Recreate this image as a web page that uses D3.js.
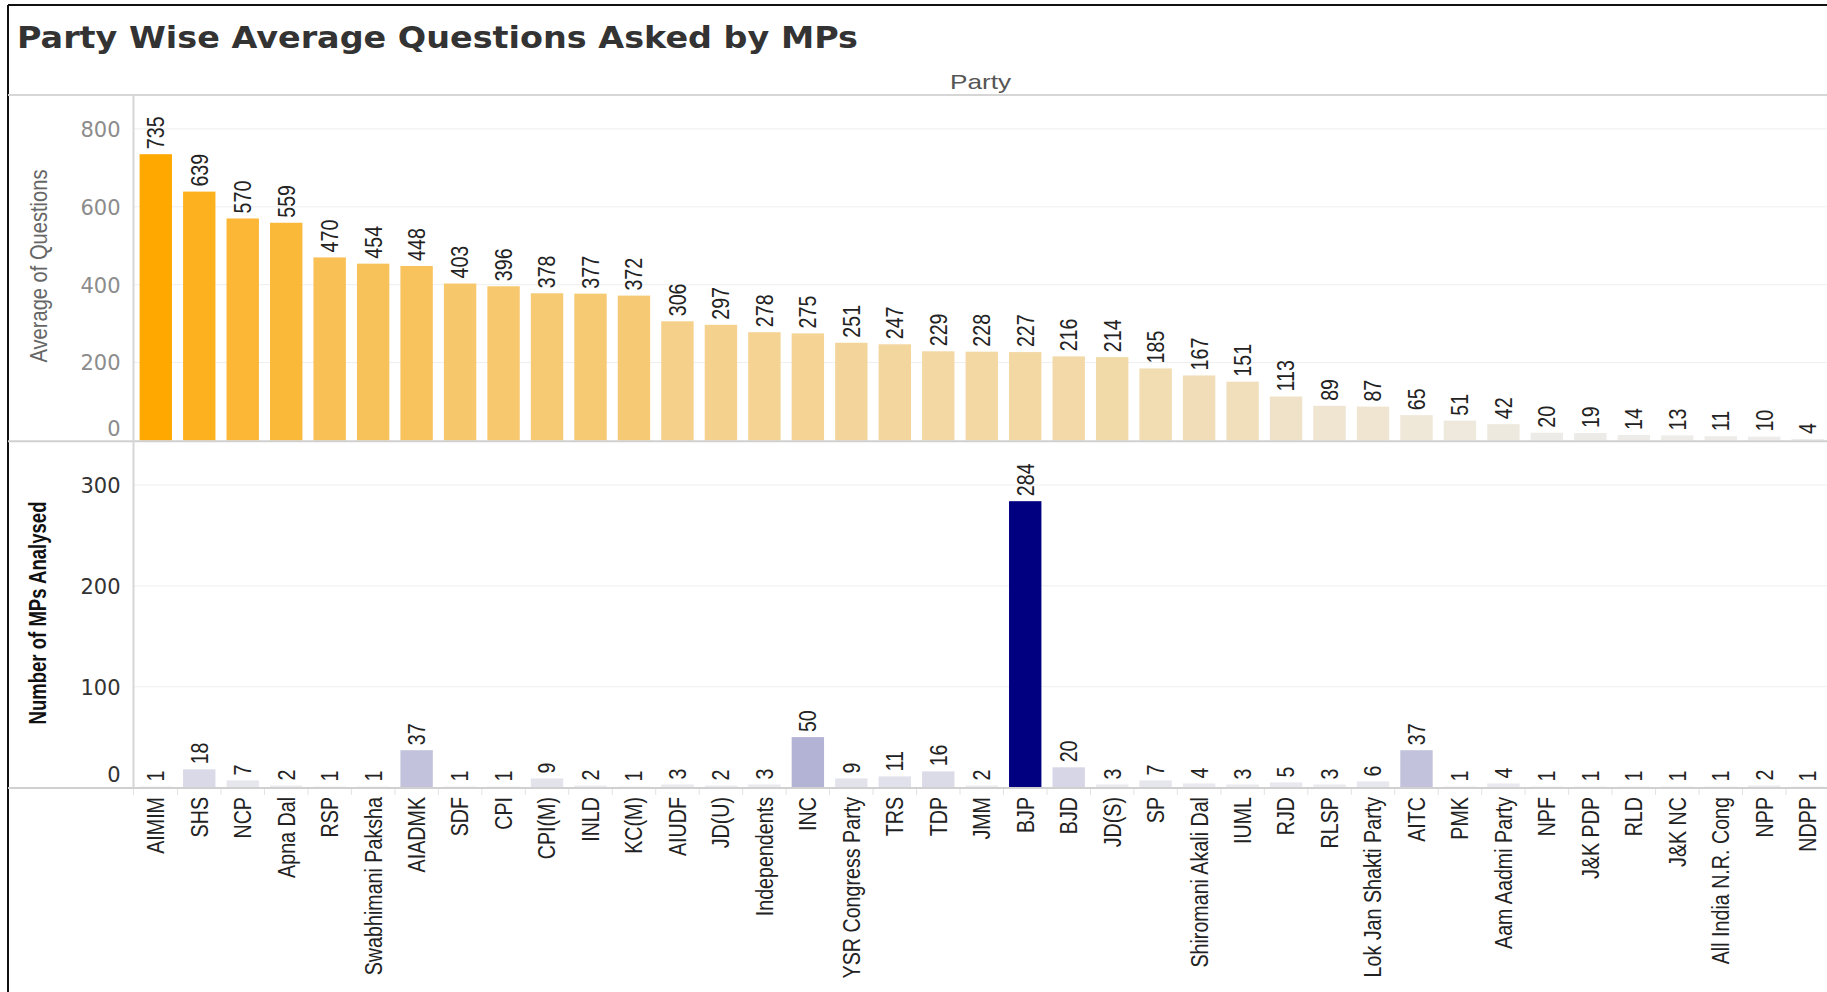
<!DOCTYPE html>
<html><head><meta charset="utf-8">
<script src="https://cdn.jsdelivr.net/npm/d3@7"></script>
<style>body{margin:0;background:#fff}svg{display:block}</style>
</head><body>
<svg id="chart" width="1827" height="992"></svg>
<script>
const categories = ["AIMIM","SHS","NCP","Apna Dal","RSP","Swabhimani Paksha","AIADMK","SDF","CPI","CPI(M)","INLD","KC(M)","AIUDF","JD(U)","Independents","INC","YSR Congress Party","TRS","TDP","JMM","BJP","BJD","JD(S)","SP","Shiromani Akali Dal","IUML","RJD","RLSP","Lok Jan Shakti Party","AITC","PMK","Aam Aadmi Party","NPF","J&K PDP","RLD","J&K NC","All India N.R. Cong","NPP","NDPP"];
const avgQuestions = [735,639,570,559,470,454,448,403,396,378,377,372,306,297,278,275,251,247,229,228,227,216,214,185,167,151,113,89,87,65,51,42,20,19,14,13,11,10,4];
const mpsAnalysed = [1,18,7,2,1,1,37,1,1,9,2,1,3,2,3,50,9,11,16,2,284,20,3,7,4,3,5,3,6,37,1,4,1,1,1,1,1,2,1];
const avgTicks = [0,200,400,600,800];
const mpsTicks = [0,100,200,300];
const titleText = "Party Wise Average Questions Asked by MPs";

const sans = "'Liberation Sans',Arial,sans-serif";
const squeeze = 0.82; // condensed look along text direction
const svg = d3.select("#chart");
const W = 1827, left = 133.5;

const x = d3.scaleBand().domain(categories).range([left, 1830]).paddingInner(0.255).paddingOuter(0.14);
const yTop = d3.scaleLinear().domain([0, 887]).range([440.5, 95]);
const yBot = d3.scaleLinear().domain([0, 343]).range([787.5, 441.7]);
const topColor = d3.scaleLinear().domain([0, 735]).range(["#EDEDED", "#FFA800"]);
const botColor = d3.scaleLinear().domain([0, 200]).range(["#EEEEF1", "#000080"]).clamp(true);

// border
svg.append("line").attr("x1",8).attr("x2",W).attr("y1",5).attr("y2",5).attr("stroke","#111").attr("stroke-width",2);
svg.append("line").attr("x1",8).attr("x2",8).attr("y1",5).attr("y2",992).attr("stroke","#111").attr("stroke-width",2);

// title
svg.append("text").attr("x",17).attr("y",48).text(titleText)
  .attr("font-family","'DejaVu Sans',sans-serif").attr("font-weight","bold").attr("font-size",31)
  .attr("fill","#333").attr("textLength",841).attr("lengthAdjust","spacingAndGlyphs");

svg.append("text").attr("x",950).attr("y",89).text("Party")
  .attr("font-family",sans).attr("font-size",21).attr("fill","#555")
  .attr("textLength",61).attr("lengthAdjust","spacingAndGlyphs");

// gridlines
svg.append("g").selectAll("line").data(avgTicks.filter(d=>d>0)).join("line")
  .attr("x1",left).attr("x2",W).attr("y1",d=>yTop(d)).attr("y2",d=>yTop(d))
  .attr("stroke","#eeeeee").attr("stroke-width",1);
svg.append("g").selectAll("line").data(mpsTicks.filter(d=>d>0)).join("line")
  .attr("x1",left).attr("x2",W).attr("y1",d=>yBot(d)).attr("y2",d=>yBot(d))
  .attr("stroke","#eeeeee").attr("stroke-width",1);

// bars top
svg.append("g").selectAll("rect").data(categories).join("rect")
  .attr("x",d=>x(d)).attr("width",x.bandwidth())
  .attr("y",(d,i)=>yTop(avgQuestions[i])).attr("height",(d,i)=>yTop(0)-yTop(avgQuestions[i]))
  .attr("fill",(d,i)=>topColor(avgQuestions[i]));
// bars bottom
svg.append("g").selectAll("rect").data(categories).join("rect")
  .attr("x",d=>x(d)).attr("width",x.bandwidth())
  .attr("y",(d,i)=>yBot(mpsAnalysed[i])).attr("height",(d,i)=>yBot(0)-yBot(mpsAnalysed[i]))
  .attr("fill",(d,i)=>botColor(mpsAnalysed[i]));

// structural lines
svg.append("line").attr("x1",8).attr("x2",W).attr("y1",95).attr("y2",95).attr("stroke","#d6d6d6").attr("stroke-width",2);
svg.append("line").attr("x1",8).attr("x2",W).attr("y1",441.2).attr("y2",441.2).attr("stroke","#d0d0d0").attr("stroke-width",2);
svg.append("line").attr("x1",8).attr("x2",W).attr("y1",788).attr("y2",788).attr("stroke","#d0d0d0").attr("stroke-width",2);
svg.append("line").attr("x1",left).attr("x2",left).attr("y1",95).attr("y2",788).attr("stroke","#d6d6d6").attr("stroke-width",2);

// small ticks between bands
const gapHalf = x.step()*x.paddingInner()/2;
const tickXs = [left].concat(categories.slice(1).map(d=>x(d)-gapHalf));
svg.append("g").selectAll("line").data(tickXs).join("line")
  .attr("x1",d=>d).attr("x2",d=>d).attr("y1",789).attr("y2",795)
  .attr("stroke","#e2e2e2").attr("stroke-width",1);

// y axes
const axTop = svg.append("g").attr("transform",`translate(${left},0)`)
  .call(d3.axisLeft(yTop).tickValues(avgTicks).tickSize(0).tickPadding(13));
axTop.select(".domain").remove();
axTop.selectAll("text").attr("font-family","'DejaVu Sans',sans-serif").attr("font-size",21).attr("fill","#8c8c8c")
  .attr("dy",d=>d===0?"-0.22em":"0.35em");
const axBot = svg.append("g").attr("transform",`translate(${left},0)`)
  .call(d3.axisLeft(yBot).tickValues(mpsTicks).tickSize(0).tickPadding(13));
axBot.select(".domain").remove();
axBot.selectAll("text").attr("font-family","'DejaVu Sans',sans-serif").attr("font-size",21).attr("fill","#333")
  .attr("dy",d=>d===0?"-0.27em":"0.35em");

// axis titles
svg.append("text").attr("transform","translate(46.5,266) rotate(-90)").attr("text-anchor","middle")
  .text("Average of Questions").attr("font-family",sans).attr("font-size",24).attr("fill","#666")
  .attr("textLength",193).attr("lengthAdjust","spacingAndGlyphs");
svg.append("text").attr("transform","translate(45.5,613) rotate(-90)").attr("text-anchor","middle")
  .text("Number of MPs Analysed").attr("font-family",sans).attr("font-weight","bold").attr("font-size",24).attr("fill","#111")
  .attr("textLength",223).attr("lengthAdjust","spacingAndGlyphs");

// value labels
const cx = d => x(d) + x.bandwidth()/2;
svg.append("g").selectAll("text").data(categories).join("text")
  .attr("transform",(d,i)=>`translate(${cx(d)},${yTop(avgQuestions[i])-5}) rotate(-90) scale(${squeeze},1)`)
  .attr("dy","0.35em").attr("text-anchor","start")
  .attr("font-family",sans).attr("font-size",24).attr("fill","#222")
  .text((d,i)=>avgQuestions[i]);
svg.append("g").selectAll("text").data(categories).join("text")
  .attr("transform",(d,i)=>`translate(${cx(d)},${yBot(mpsAnalysed[i])-5}) rotate(-90) scale(${squeeze},1)`)
  .attr("dy","0.35em").attr("text-anchor","start")
  .attr("font-family",sans).attr("font-size",24).attr("fill","#222")
  .text((d,i)=>mpsAnalysed[i]);

// category labels
svg.append("g").selectAll("text").data(categories).join("text")
  .attr("transform",d=>`translate(${cx(d)},797) rotate(-90) scale(${squeeze},1)`)
  .attr("dy","0.35em").attr("text-anchor","end")
  .attr("font-family",sans).attr("font-size",24).attr("fill","#222")
  .text(d=>d);
</script>
</body></html>
